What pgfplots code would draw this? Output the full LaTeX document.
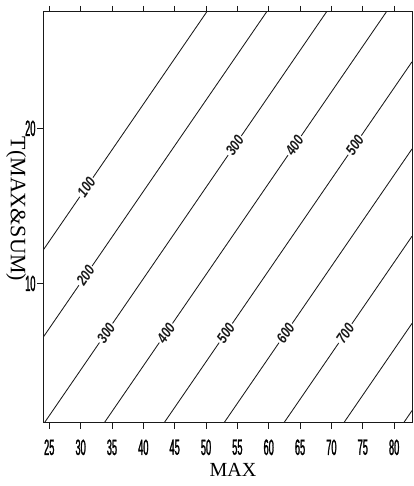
\documentclass[border=0pt]{standalone}
\usepackage{fontspec}
\setmainfont{Liberation Serif}
\newfontfamily\tickfont[FakeStretch=0.42,FakeBold=1.2]{Liberation Sans}
\newfontfamily\clabfont[FakeStretch=0.8]{Liberation Sans}
\usepackage{pgfplots}
\pgfplotsset{compat=1.18}
\tikzset{
  contour/.style={line width=0.85pt, black!90},
  lbl/.style={sloped, fill=white, inner sep=1.5pt, font=\fontsize{15}{15}\selectfont\clabfont\bfseries\itshape},
}
\begin{document}
\begin{tikzpicture}
\useasboundingbox (0,0) rectangle (413pt,486pt);
\begin{axis}[
 at={(43pt,63pt)}, anchor=south west,
 scale only axis, width=369pt, height=411pt,
 xmin=24, xmax=82.85, ymin=1, ymax=27.5,
 xtick={25,30,...,80}, ytick={10,20},
 tick align=outside, xtick pos=both, xticklabel pos=lower, ytick pos=left,
 major tick length=6pt,
 axis line style={line width=1pt, black!90},
 tick style={line width=0.9pt, black!90},
 /pgf/number format/assume math mode=true,
 ticklabel style={font=\fontsize{22}{22}\selectfont\tickfont},
 xticklabel style={yshift=-7pt},
 yticklabel style={xshift=2pt},
 xlabel={MAX}, ylabel={T(MAX\&SUM)},
 xlabel style={at={(axis description cs:0.515,-0.114)}, anchor=center, font=\fontsize{20}{20}\selectfont},
 ylabel style={at={(axis description cs:-0.073,0.521)}, anchor=center, rotate=180, font=\fontsize{22}{22}\selectfont},
]
\addplot[contour] coordinates {(24,12.13) (50.1,27.5)} node[lbl,pos=0.265]{100};
\addplot[contour] coordinates {(24,6.51) (59.65,27.5)} node[lbl,pos=0.19]{200};
\addplot[contour] coordinates {(24.2,1) (69.2,27.5)} node[lbl,pos=0.219]{300} node[lbl,pos=0.675]{300};
\addplot[contour] coordinates {(33.75,1) (78.75,27.5)} node[lbl,pos=0.219]{400} node[lbl,pos=0.675]{400};
\addplot[contour] coordinates {(43.3,1) (82.85,24.29)} node[lbl,pos=0.249]{500} node[lbl,pos=0.769]{500};
\addplot[contour] coordinates {(52.85,1) (82.85,18.67)} node[lbl,pos=0.328]{600};
\addplot[contour] coordinates {(62.4,1) (82.85,13.04)} node[lbl,pos=0.48]{700};
\addplot[contour] coordinates {(71.95,1) (82.85,7.42)};
\addplot[contour] coordinates {(81.5,1) (82.85,1.80)};
\end{axis}
\end{tikzpicture}
\end{document}
